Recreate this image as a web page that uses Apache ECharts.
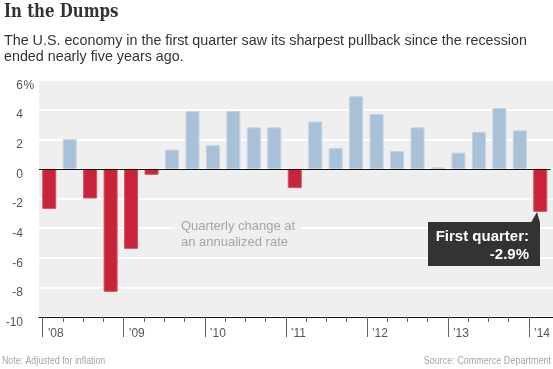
<!DOCTYPE html>
<html>
<head>
<meta charset="utf-8">
<script src="https://cdn.jsdelivr.net/npm/echarts@6/dist/echarts.min.js"></script>
<style>
html,body{margin:0;padding:0;background:#fff;}
#c{width:553px;height:369px;}
</style>
</head>
<body>
<div id="c"></div>
<script>
var quarters = ["2008Q1","2008Q2","2008Q3","2008Q4","2009Q1","2009Q2","2009Q3","2009Q4",
  "2010Q1","2010Q2","2010Q3","2010Q4","2011Q1","2011Q2","2011Q3","2011Q4",
  "2012Q1","2012Q2","2012Q3","2012Q4","2013Q1","2013Q2","2013Q3","2013Q4","2014Q1"];
var gdpChange = [-2.7, 2.0, -2.0, -8.3, -5.4, -0.4, 1.3, 3.9,
  1.6, 3.9, 2.8, 2.8, -1.3, 3.2, 1.4, 4.9,
  3.7, 1.2, 2.8, 0.1, 1.1, 2.5, 4.1, 2.6, -2.9];
var yearLabels = ["’08","’09","’10","’11","’12","’13","’14"];
var yTicks = [-10, -8, -6, -4, -2, 0, 2, 4, 6];

var RED = '#c8233a', RED_B = '#d4505f';
var BLUE = '#a9c1d7', BLUE_B = '#c2d2e2';
var chart = echarts.init(document.getElementById('c'), null, {renderer: 'canvas'});

var barData = gdpChange.map(function (v) {
  return {value: v, itemStyle: {color: v < 0 ? RED : BLUE, borderColor: v < 0 ? RED_B : BLUE_B, borderWidth: 1}};
});

var gridTop = 80, gridBottom = 52;
var option = {
  animation: false,
  textStyle: {fontFamily: 'Liberation Sans, Arial, sans-serif'},
  grid: [
    {left: 39, right: 0, top: gridTop, bottom: gridBottom, show: true, backgroundColor: '#efefef', borderWidth: 0},
    {left: 39, right: 2.5, top: gridTop, bottom: gridBottom},
    {left: 42.7, width: 491, top: gridTop, bottom: gridBottom}
  ],
  xAxis: [
    {gridIndex: 0, type: 'value', min: 0, max: 1, axisLine: {show: true, onZero: false, lineStyle: {color: '#111', width: 1}},
      axisTick: {show: false}, axisLabel: {show: false}, splitLine: {show: false}},
    {gridIndex: 1, type: 'category', data: quarters, axisLine: {show: false}, axisTick: {show: false}, axisLabel: {show: false}},
    {gridIndex: 2, type: 'value', min: 0, max: 24, interval: 4,
      axisLine: {show: false, onZero: false},
      axisTick: {show: true, length: 20, lineStyle: {color: '#666', width: 1}},
      minorTick: {show: true, splitNumber: 4, length: 5, lineStyle: {color: '#666', width: 1}},
      splitLine: {show: false}, minorSplitLine: {show: false},
      axisLabel: {show: true, align: 'left', margin: 11, padding: [0, 0, 0, 5], color: '#555', fontSize: 12,
        formatter: function (v) { return yearLabels[Math.round(v / 4)] || ''; }}}
  ],
  yAxis: [
    {gridIndex: 0, type: 'value', min: yTicks[0], max: yTicks[yTicks.length - 1], interval: 2,
      axisLine: {show: false}, axisTick: {show: false},
      axisLabel: {color: '#555', fontSize: 12, margin: 16, verticalAlign: 'top', lineHeight: 11},
      splitLine: {show: true, lineStyle: {color: '#ffffff', width: 2}}},
    {gridIndex: 1, type: 'value', min: -10, max: 6, interval: 2, show: false, splitLine: {show: false}},
    {gridIndex: 2, type: 'value', min: -10, max: 6, show: false, splitLine: {show: false}}
  ],
  series: [{
    type: 'bar', xAxisIndex: 1, yAxisIndex: 1, data: barData, barWidth: 14,
    markLine: {silent: true, symbol: ['none', 'none'], label: {show: false},
      lineStyle: {color: '#111', width: 1, type: 'solid'}, data: [{yAxis: 0}]}
  }],
  graphic: [
    {type: 'text', x: 4, y: 3, scaleX: 0.79, style: {text: 'In the Dumps', fill: '#333', font: 'bold 19px "DejaVu Serif", serif'}},
    {type: 'text', left: 4, top: 33, style: {text: 'The U.S. economy in the first quarter saw its sharpest pullback since the recession\nended nearly five years ago.', fill: '#333', font: '14.3px "Liberation Sans", Arial, sans-serif', lineHeight: 16}},
    {type: 'text', x: 23.5, y: 80, style: {text: '%', fill: '#555', font: '12px "Liberation Sans", Arial, sans-serif', lineHeight: 11}},
    {type: 'text', left: 175, top: 218, z: 10, style: {text: 'Quarterly change at\nan annualized rate', fill: '#a5a5a5', font: '13px "Liberation Sans", Arial, sans-serif', lineHeight: 16, backgroundColor: '#efefef', padding: [0, 6, 0, 6]}},
    {type: 'rect', z: 10, shape: {x: 428, y: 222, width: 112, height: 44}, style: {fill: '#333'}},
    {type: 'polygon', z: 10, shape: {points: [[531, 222.5], [540, 222.5], [537, 212]]}, style: {fill: '#333'}},
    {type: 'text', z: 11, x: 529, y: 228, style: {text: 'First quarter:\n-2.9%', align: 'right', fill: '#fff', font: 'bold 15px "Liberation Sans", Arial, sans-serif', lineHeight: 18}},
    {type: 'text', x: 2, y: 355, scaleX: 0.8, style: {text: 'Note: Adjusted for inflation', fill: '#a5a5a5', font: '11px "Liberation Sans", sans-serif'}},
    {type: 'text', x: 551, y: 355, scaleX: 0.82, style: {text: 'Source: Commerce Department', align: 'right', fill: '#a5a5a5', font: '11px "Liberation Sans", sans-serif'}}
  ]
};
chart.setOption(option);
</script>
</body>
</html>
